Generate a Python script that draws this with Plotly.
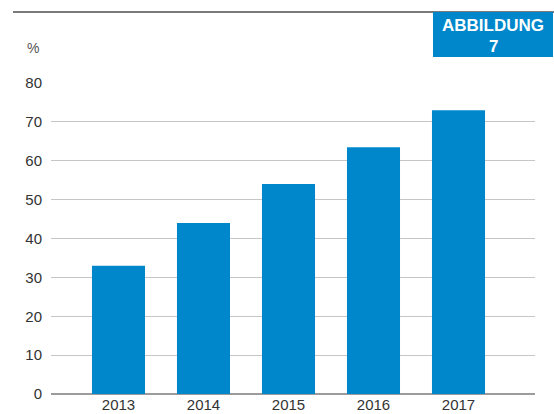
import plotly.graph_objects as go

# Data
years = ["2013", "2014", "2015", "2016", "2017"]
shares = [33, 44, 54, 63.5, 73]
y_ticks = [0, 10, 20, 30, 40, 50, 60, 70, 80]

BLUE = "#0087CB"
W, H = 554, 414
M_L, M_R, M_T, M_B = 51, 19, 83, 20
PW, PH = W - M_L - M_R, H - M_T - M_B


def px_x(px):
    """Pixel x -> paper x."""
    return (px - M_L) / PW


def px_y(py):
    """Pixel y (from top) -> paper y."""
    return (H - M_B - py) / PH


fig = go.Figure(
    go.Bar(
        x=years,
        y=shares,
        marker=dict(color=BLUE, line=dict(width=0)),
        width=0.624,
        hoverinfo="x+y",
    )
)

fig.update_layout(
    width=W,
    height=H,
    margin=dict(l=M_L, r=M_R, t=M_T, b=M_B, pad=0, autoexpand=False),
    paper_bgcolor="white",
    plot_bgcolor="white",
    showlegend=False,
    font=dict(family="Liberation Sans, Arial, sans-serif", size=15, color="#333333"),
    xaxis=dict(
        type="category",
        range=[-0.794, 4.9],
        showgrid=False,
        showline=False,
        zeroline=False,
        ticks="",
        automargin=False,
        ticklabelstandoff=0,
        tickfont=dict(size=15, color="#333333"),
        fixedrange=True,
    ),
    yaxis=dict(
        range=[0, 80],
        tickvals=y_ticks,
        showgrid=True,
        gridcolor="#c6c6c6",
        gridwidth=1,
        zeroline=True,
        zerolinecolor="#9c9c9c",
        zerolinewidth=2,
        showline=False,
        ticks="",
        automargin=False,
        ticklabelstandoff=8,
        tickfont=dict(size=15, color="#333333"),
        fixedrange=True,
    ),
    shapes=[
        # rule across the top
        dict(
            type="line", xref="paper", yref="paper",
            x0=px_x(13), x1=px_x(554), y0=px_y(12), y1=px_y(12),
            line=dict(color="#7a7a7a", width=2),
        ),
        # figure label box
        dict(
            type="rect", xref="paper", yref="paper",
            x0=px_x(433), x1=px_x(553), y0=px_y(57), y1=px_y(12),
            fillcolor=BLUE, line=dict(width=0), layer="above",
        ),
    ],
    annotations=[
        dict(
            text="%", xref="paper", yref="paper",
            x=px_x(33), y=px_y(48), xanchor="center", yanchor="middle",
            showarrow=False, font=dict(size=14, color="#555555"),
        ),
        dict(
            text="<b>ABBILDUNG</b>", xref="paper", yref="paper",
            x=px_x(493), y=px_y(25), xanchor="center", yanchor="middle",
            showarrow=False, font=dict(size=17, color="white"),
        ),
        dict(
            text="<b>7</b>", xref="paper", yref="paper",
            x=px_x(493), y=px_y(46), xanchor="center", yanchor="middle",
            showarrow=False, font=dict(size=17, color="white"),
        ),
    ],
)

fig.write_html("out.html", config={"displayModeBar": False})
